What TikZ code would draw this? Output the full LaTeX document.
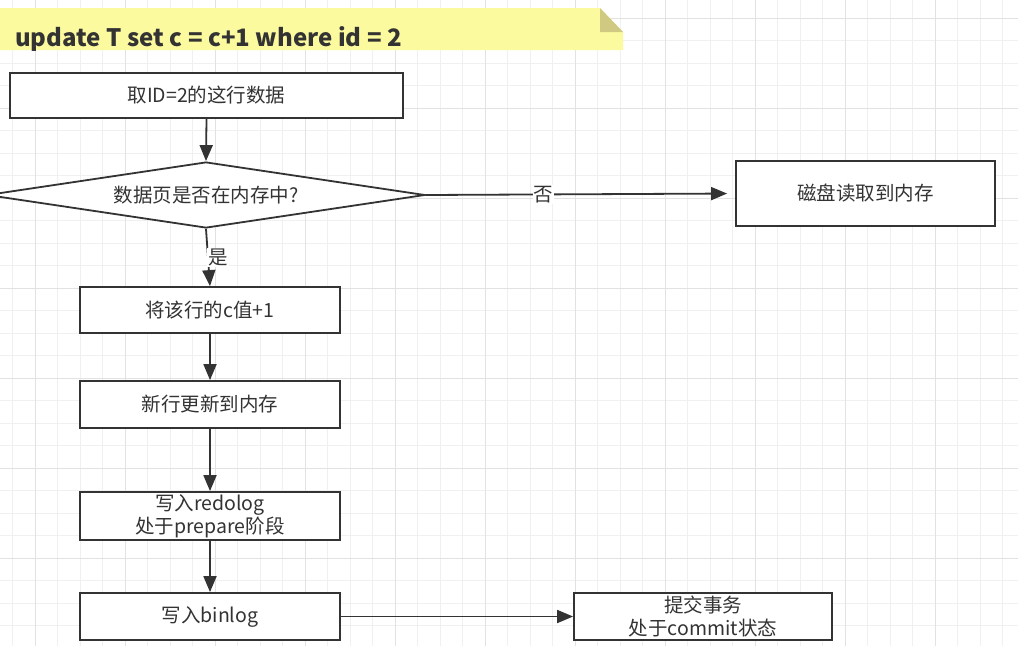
\documentclass[tikz,border=0pt]{standalone}
\usepackage{fontspec}
\setmainfont{Noto Sans CJK SC}
\usetikzlibrary{shapes.geometric,arrows.meta}
\definecolor{gridminor}{HTML}{F0F0F0}
\definecolor{gridmajor}{HTML}{E2E2E2}
\definecolor{linec}{HTML}{333333}
\definecolor{notefill}{HTML}{FCFA9E}
\definecolor{notefold}{HTML}{CFC982}
\tikzset{
  box/.style={draw=linec, line width=1.8pt, fill=white, rectangle, inner sep=0pt,
    text=linec, font=\fontsize{19.5}{23}\selectfont, align=center},
  flow/.style={draw=linec, line width=1.8pt, -{Triangle[length=16pt,width=13pt]}},
  lbl/.style={fill=white, inner sep=1pt, text=linec, font=\fontsize{19.5}{22}\selectfont}
}
\begin{document}
\begin{tikzpicture}[x=1pt,y=-1pt]
\useasboundingbox (0,0) rectangle (1018,646);
\clip (0,0) rectangle (1018,646);
% grid
\foreach \i in {0,...,46} {
  \draw[gridminor, line width=0.8pt] ({12.5+22.5*\i},0) -- ({12.5+22.5*\i},646);
}
\foreach \j in {0,...,29} {
  \draw[gridminor, line width=0.8pt] (0,{18+22.5*\j}) -- (1018,{18+22.5*\j});
}
\foreach \i in {0,...,11} {
  \draw[gridmajor, line width=0.9pt] ({35+90*\i},0) -- ({35+90*\i},646);
}
\foreach \j in {0,...,7} {
  \draw[gridmajor, line width=0.9pt] (0,{18+90*\j}) -- (1018,{18+90*\j});
}
% note
\fill[notefill] (0,8) -- (600,8) -- (623,32) -- (623,50) -- (0,50) -- cycle;
\fill[notefold] (600,8) -- (600,32) -- (623,32) -- cycle;
\node[anchor=base west, inner sep=0pt, text=linec, font=\fontsize{24}{28}\selectfont\bfseries] (title) at (15,46) {update T set c = c+1 where id = 2};
% nodes
\node[box, minimum width=393pt, minimum height=45pt] (b1) at (206.5,95.5) {取ID=2的这行数据};
\node[draw=linec, line width=1.8pt, fill=white, diamond, shape aspect=6.6, minimum width=438pt, minimum height=66pt, inner sep=0pt, text=linec, font=\fontsize{19.5}{23}\selectfont] (d) at (206,195) {数据页是否在内存中?};
\node[box, minimum width=259pt, minimum height=65pt] (disk) at (865.5,193.5) {磁盘读取到内存};
\node[box, minimum width=260pt, minimum height=46pt] (b2) at (210,310) {将该行的c值+1};
\node[box, minimum width=260pt, minimum height=47pt] (b3) at (210,404.5) {新行更新到内存};
\node[box, minimum width=260pt, minimum height=48pt] (b4) at (210,516) {写入redolog\\处于prepare阶段};
\node[box, minimum width=260pt, minimum height=47pt] (b5) at (210,616.5) {写入binlog};
\node[box, minimum width=258pt, minimum height=47pt] (b6) at (703,616.5) {提交事务\\处于commit状态};
% connectors
\draw[flow] (b1.south) -- (d.north);
\draw[flow, shorten >=8pt] (d.east) -- node[lbl, pos=0.38] (no) {否} (disk.west);
\draw[flow] (d.south) -- node[lbl, pos=0.5, xshift=10pt] (yes) {是} (b2.north);
\draw[flow] (b2.south) -- (b3.north);
\draw[flow] (b3.south) -- (b4.north);
\draw[flow] (b4.south) -- (b5.north);
\draw[flow] (b5.east) -- (b6.west);
\end{tikzpicture}
\end{document}
